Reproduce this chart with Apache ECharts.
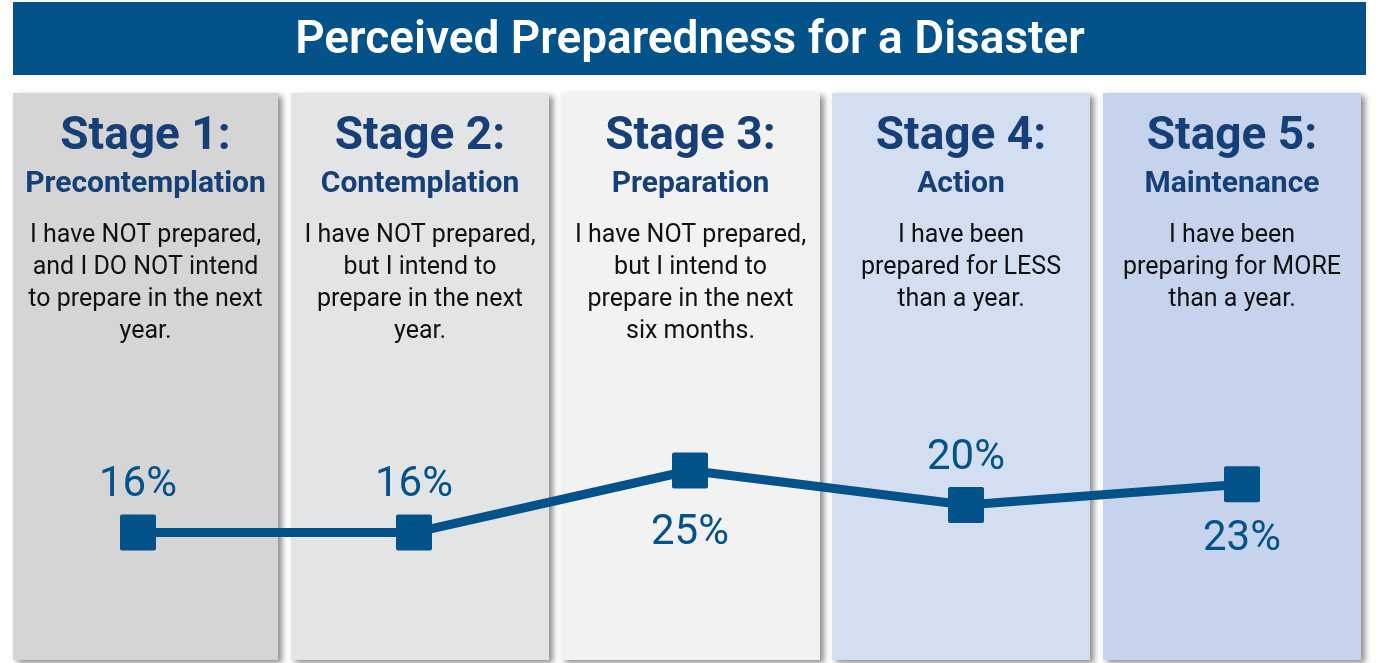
<!DOCTYPE html>
<html>
<head>
<meta charset="utf-8">
<title>Perceived Preparedness for a Disaster</title>
<script src="https://cdn.jsdelivr.net/npm/echarts@6/dist/echarts.min.js"></script>
<style>
  html, body { margin: 0; padding: 0; background: #ffffff; }
  #chart { width: 1376px; height: 663px; }
</style>
</head>
<body>
<div id="chart"></div>
<script>
// Survey results: share of respondents in each stage of preparedness
const chartTitle = 'Perceived Preparedness for a Disaster';
const stages = ['Stage 1:', 'Stage 2:', 'Stage 3:', 'Stage 4:', 'Stage 5:'];
const stageNames = ['Precontemplation', 'Contemplation', 'Preparation', 'Action', 'Maintenance'];
const descriptions = [
  'I have NOT prepared,\nand I DO NOT intend\nto prepare in the next\nyear.',
  'I have NOT prepared,\nbut I intend to\nprepare in the next\nyear.',
  'I have NOT prepared,\nbut I intend to\nprepare in the next\nsix months.',
  'I have been\nprepared for LESS\nthan a year.',
  'I have been\npreparing for MORE\nthan a year.'
];
const percentages = [16, 16, 25, 20, 23];

const BLUE = '#04528a';
const NAVY = '#153f76';
const FONT = 'Roboto, "Liberation Sans", sans-serif';

// Column panels (left edge, width, fill)
const panelBoxes = [
  { x: 13, w: 265, fill: '#d5d5d5' },
  { x: 291, w: 258, fill: '#e3e4e6' },
  { x: 561, w: 259, fill: '#f2f2f2' },
  { x: 832, w: 258, fill: '#d3def0' },
  { x: 1103, w: 258, fill: '#c5d3ec' }
];
const panelTop = 93, panelBottom = 660;

const graphics = [];

// Title banner
graphics.push({
  type: 'rect',
  shape: { x: 13, y: 2, width: 1353, height: 73 },
  style: { fill: BLUE },
  z: 0
});
graphics.push({
  type: 'text',
  x: 690, y: 41,
  style: {
    text: chartTitle,
    fill: '#ffffff',
    font: '600 46px ' + FONT,
    textAlign: 'center',
    textVerticalAlign: 'middle'
  },
  z: 1
});

panelBoxes.forEach((p, i) => {
  const cx = p.x + p.w / 2;
  graphics.push({
    type: 'rect',
    shape: { x: p.x, y: panelTop, width: p.w, height: panelBottom - panelTop },
    style: {
      fill: p.fill,
      shadowBlur: 6,
      shadowOffsetX: 4,
      shadowOffsetY: 3,
      shadowColor: 'rgba(0,0,0,0.45)'
    },
    z: 0
  });
  graphics.push({
    type: 'text', x: cx, y: 137,
    style: {
      text: stages[i], fill: NAVY,
      font: 'bold 46px ' + FONT,
      textAlign: 'center', textVerticalAlign: 'middle'
    },
    z: 1
  });
  graphics.push({
    type: 'text', x: cx, y: 184,
    style: {
      text: stageNames[i], fill: NAVY,
      font: 'bold 30px ' + FONT,
      textAlign: 'center', textVerticalAlign: 'middle'
    },
    z: 1
  });
  graphics.push({
    type: 'text', x: cx, y: 220,
    style: {
      text: descriptions[i], fill: '#111111',
      font: '25px ' + FONT, lineHeight: 32,
      textAlign: 'center', textVerticalAlign: 'top'
    },
    z: 1
  });
});

// Labels sit above the marker except where the line would cross them
const labelBelow = { 2: 24, 4: 16 };

const chart = echarts.init(document.getElementById('chart'), null, { renderer: 'canvas' });
chart.setOption({
  animation: false,
  backgroundColor: '#ffffff',
  graphic: graphics,
  grid: { left: 138, right: 134, top: 367, bottom: 20 },
  xAxis: {
    type: 'category',
    data: stageNames,
    boundaryGap: false,
    show: false
  },
  yAxis: {
    type: 'value',
    min: 0, max: 40,
    show: false
  },
  series: [{
    type: 'line',
    z: 5,
    data: percentages.map((v, i) => ({
      value: v,
      label: labelBelow[i] !== undefined
        ? { position: 'bottom', distance: labelBelow[i] }
        : { position: 'top', distance: 8 }
    })),
    symbol: 'path://M2,0H34Q36,0 36,2V34Q36,36 34,36H2Q0,36 0,34V2Q0,0 2,0Z',
    symbolSize: 36,
    lineStyle: { color: BLUE, width: 9 },
    itemStyle: { color: BLUE },
    label: {
      show: true,
      formatter: p => p.value + '%',
      color: BLUE,
      fontFamily: FONT,
      fontSize: 42,
      lineHeight: 42
    }
  }]
});
</script>
</body>
</html>
